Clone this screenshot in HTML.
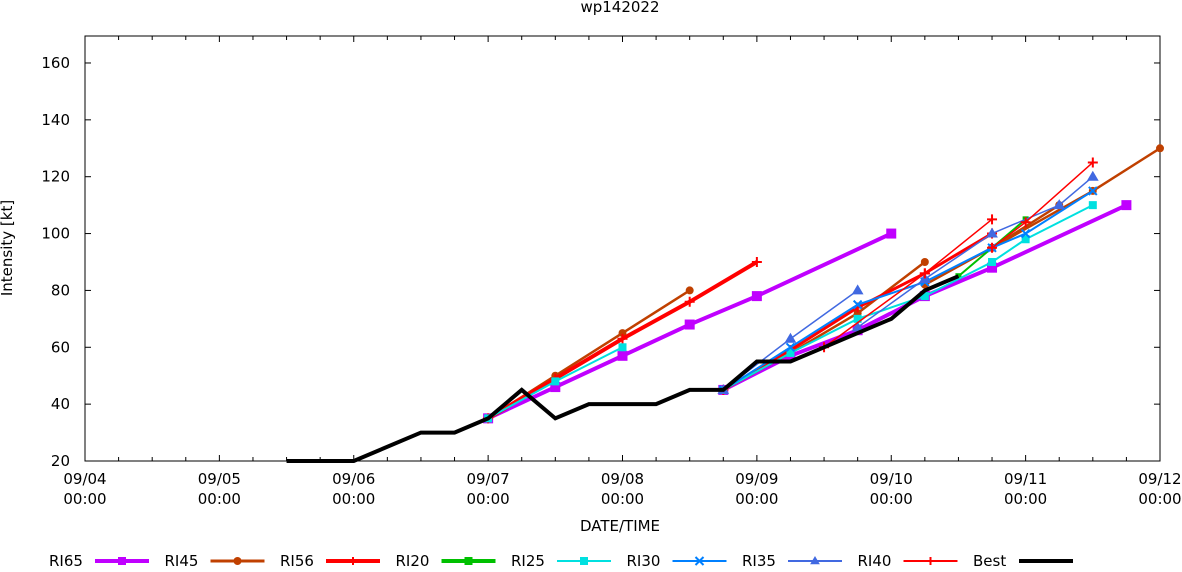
<!DOCTYPE html>
<html><head><meta charset="utf-8"><style>
body{margin:0;background:#fff}
svg text{font-family:"DejaVu Sans",sans-serif;font-size:15px;fill:#000}
</style></head><body>
<svg id="s" width="1182" height="567" xmlns="http://www.w3.org/2000/svg"></svg>
<script>
const s=document.getElementById('s');
const X=t=>85+134.375*t, Y=v=>461-(v-20)*2.843;
let h='';
h+='<text x="620" y="12" text-anchor="middle">wp142022</text>';
h+='<rect x="85" y="36" width="1075" height="425" fill="none" stroke="#000" stroke-width="1"/>';
for(let v=20;v<=160;v+=20){const y=Y(v);h+=`<line x1="85" x2="91" y1="${y}" y2="${y}" stroke="#000"/><line x1="1154" x2="1160" y1="${y}" y2="${y}" stroke="#000"/><text x="70" y="${y+5}" text-anchor="end">${v}</text>`;}
for(let i=0;i<=32;i++){const x=X(i/4),L=i%4==0?6:4;h+=`<line x1="${x}" x2="${x}" y1="461" y2="${461-L}" stroke="#000"/><line x1="${x}" x2="${x}" y1="36" y2="${36+L}" stroke="#000"/>`;
if(i%4==0){h+=`<text x="${x}" y="484" text-anchor="middle">09/${String(4+i/4).padStart(2,'0')}</text><text x="${x}" y="504" text-anchor="middle">00:00</text>`;}}
h+='<text x="620" y="531" text-anchor="middle">DATE/TIME</text>';
h+='<text transform="translate(12,248) rotate(-90)" text-anchor="middle">Intensity [kt]</text>';
function mk(type,c,x,y,sz){
 if(type=='sq')return `<rect x="${x-sz}" y="${y-sz}" width="${2*sz}" height="${2*sz}" fill="${c}"/>`;
 if(type=='ci')return `<circle cx="${x}" cy="${y}" r="${sz}" fill="${c}"/>`;
 if(type=='pl')return `<path d="M${x-sz} ${y}H${x+sz}M${x} ${y-sz}V${y+sz}" stroke="${c}" stroke-width="2"/>`;
 if(type=='x')return `<path d="M${x-sz} ${y-sz}L${x+sz} ${y+sz}M${x+sz} ${y-sz}L${x-sz} ${y+sz}" stroke="${c}" stroke-width="2"/>`;
 if(type=='tr')return `<path d="M${x} ${y-sz}L${x+sz} ${y+sz*0.7}L${x-sz} ${y+sz*0.7}Z" fill="${c}" stroke="${c}" stroke-width="1"/>`;
 return '';}
function ser(pts,c,w,type,sz){
 h+=`<polyline points="${pts.map(p=>X(p[0])+','+Y(p[1])).join(' ')}" fill="none" stroke="${c}" stroke-width="${w}"/>`;
 pts.forEach(p=>h+=mk(type,c,X(p[0]),Y(p[1]),sz));}
const P='#c000ff',B='#c04000',R='#ff0000',G='#00c000',C='#00e0e0',BL='#0080ff',T='#4169e1';
ser([[3,35],[3.5,46],[4,57],[4.5,68],[5,78],[6,100]],P,4,'sq',5);
ser([[4.75,45],[5.25,57],[5.75,66],[6.25,78],[6.75,88],[7.75,110]],P,4,'sq',5);
ser([[3,35],[3.5,50],[4,65],[4.5,80]],B,2.5,'ci',4);
ser([[4.75,45],[5.25,58],[5.75,72],[6.25,90]],B,2.5,'ci',4);
ser([[6.25,82],[6.75,95],[7.25,110]],B,2.5,'ci',4);
ser([[6.75,95],[7.5,115],[8,130]],B,2.5,'ci',4);
ser([[3,35],[3.5,49],[4,63],[4.5,76],[5,90]],R,4,'pl',5);
ser([[4.75,45],[5.25,59],[5.75,74],[6.25,86],[6.75,100]],R,3,'pl',5);
ser([[6.5,85],[7,105]],G,2,'sq',3);
ser([[3,35],[3.5,48],[4,60]],C,2,'sq',4);
ser([[4.75,45],[5.25,58],[5.75,70],[6.25,78],[6.75,90],[7,98],[7.5,110]],C,2,'sq',4);
ser([[4.75,45],[5.25,60],[5.75,75],[6.25,83],[6.75,95],[7,100],[7.5,115]],BL,2,'x',4);
ser([[4.75,45],[5.25,63],[5.75,80]],T,1.5,'tr',5);
ser([[5.75,67],[6.25,84],[6.75,100],[7.25,110],[7.5,120]],T,1.5,'tr',5);
ser([[5.5,60],[6.25,86],[6.75,105]],R,1.5,'pl',5);
ser([[6.75,95],[7,104],[7.5,125]],R,1.5,'pl',5);
ser([[1.5,20],[2,20],[2.5,30],[2.75,30],[3,35],[3.25,45],[3.5,35],[3.75,40],[4.25,40],[4.5,45],[4.75,45],[5,55],[5.25,55],[5.5,60],[5.75,65],[6,70],[6.25,80],[6.5,85]],'#000',4,'',0);
const leg=[['RI65',P,4,'sq'],['RI45',B,3,'ci'],['RI56',R,4,'pl'],['RI20',G,4,'sq'],['RI25',C,2,'sq'],['RI30',BL,2,'x'],['RI35',T,2,'tr'],['RI40',R,2,'pl'],['Best','#000',4,'']];
leg.forEach((l,i)=>{const x0=49+i*115.5;h+=`<text x="${x0}" y="567" dy="-1">${l[0]}</text>`;
h+=`<line x1="${x0+46}" x2="${x0+100}" y1="561" y2="561" stroke="${l[1]}" stroke-width="${l[2]}"/>`+mk(l[3],l[1],x0+73,561,4);});
s.innerHTML=h;
</script>
</body></html>
